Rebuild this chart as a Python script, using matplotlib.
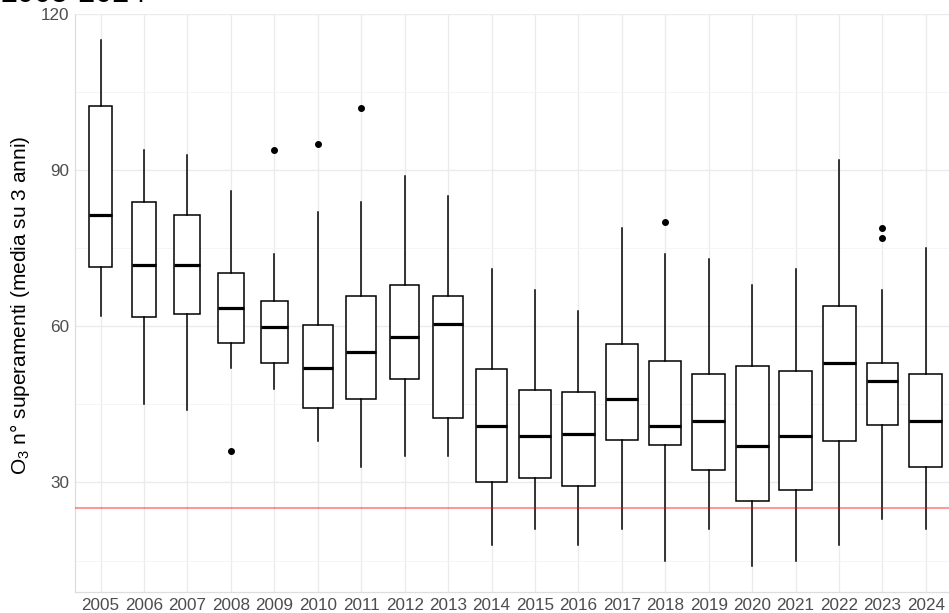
import numpy as np
import matplotlib
matplotlib.use("Agg")
import matplotlib.pyplot as plt

plt.rcParams['font.family'] = ['Liberation Sans', 'DejaVu Sans']
plt.rcParams['mathtext.fontset'] = 'custom'
plt.rcParams['mathtext.rm'] = 'Liberation Sans'
plt.rcParams['mathtext.default'] = 'regular'

# dati (valori per anno)
anni = [2005, 2006, 2007, 2008, 2009, 2010, 2011, 2012, 2013, 2014,
        2015, 2016, 2017, 2018, 2019, 2020, 2021, 2022, 2023, 2024]
whis_basso = [62, 45, 44, 52, 48, 38, 33, 35, 35, 18, 21, 18, 21, 15, 21, 14, 15, 18, 23, 21]
q1 = [71.4, 61.9, 62.4, 56.9, 53.0, 44.4, 46.0, 49.9, 42.3, 30.0,
      30.9, 29.4, 38.2, 37.2, 32.4, 26.5, 28.5, 37.9, 41.0, 32.9]
mediana = [81.4, 71.9, 71.8, 63.5, 59.9, 52.0, 55.0, 57.9, 60.4, 40.9,
           39.0, 39.4, 46.0, 40.9, 41.9, 37.0, 39.0, 53.0, 49.5, 41.9]
q3 = [102.4, 83.9, 81.4, 70.2, 64.9, 60.3, 65.8, 67.9, 65.8, 51.9,
      47.8, 47.4, 56.7, 53.4, 50.9, 52.4, 51.5, 64.0, 53.0, 50.9]
whis_alto = [115, 94, 93, 86, 74, 82, 84, 89, 85, 71, 67, 63, 79, 74, 73, 68, 71, 92, 67, 75]
outlier = [[], [], [], [36], [94], [95], [102], [], [], [],
           [], [], [], [80], [], [], [], [], [77, 79], []]
n_stazioni = [12, 13, 16, 17, 18, 21, 21, 21, 22, 24, 25, 25, 25, 25, 26, 26, 26, 26, 23, 26]
soglia = 25

W, H = 949, 613
fig = plt.figure(figsize=(W / 100, H / 100), dpi=100)
ax = fig.add_axes([74.5 / W, 21 / H, (952 - 74.5) / W, (592 - 14) / H])

stats = []
for i in range(len(anni)):
    stats.append({'whislo': whis_basso[i], 'q1': q1[i], 'med': mediana[i],
                  'q3': q3[i], 'whishi': whis_alto[i], 'fliers': outlier[i]})

pos = np.arange(len(anni))
larghezze = 0.76 * np.sqrt(np.array(n_stazioni) / max(n_stazioni))

ax.bxp(stats, positions=pos, widths=larghezze, showcaps=False, patch_artist=True,
       boxprops=dict(facecolor='white', edgecolor='black', linewidth=1.1),
       medianprops=dict(color='black', linewidth=2.3),
       whiskerprops=dict(color='black', linewidth=1.1),
       flierprops=dict(marker='o', markerfacecolor='black', markeredgecolor='black',
                       markersize=4),
       zorder=3)

ax.axhline(soglia, color='#FF0000', alpha=0.4, linewidth=1.5, zorder=4)

ax.set_xlim(-0.6, len(anni) - 0.4)
ax.set_ylim(8.95, 120.05)
ax.set_xticks(pos)
ax.set_xticklabels([str(a) for a in anni])
ax.set_yticks([30, 60, 90, 120])
ax.set_yticks([15, 45, 75, 105], minor=True)

ax.grid(True, which='major', color='#EBEBEB', linewidth=1.0, zorder=0)
ax.grid(True, which='minor', axis='y', color='#F4F4F4', linewidth=0.6, zorder=0)
ax.set_axisbelow(True)

for s in ['top', 'right']:
    ax.spines[s].set_visible(False)
for s in ['left', 'bottom']:
    ax.spines[s].set_color('#DDDDDD')
    ax.spines[s].set_linewidth(0.9)

ax.tick_params(which='both', length=0, pad=4, labelsize=12.3, labelcolor='#4D4D4D')

fig.text(20 / W, 1 - 305 / H, r'$\mathregular{O_3}$ n° superamenti (media su 3 anni)',
         rotation=90, ha='center', va='center', fontsize=15, color='black')
fig.text(0, 1 - 2.5 / H, '2005-2024', fontsize=22, ha='left', va='baseline', color='black')

plt.savefig('out.png', dpi=100)
